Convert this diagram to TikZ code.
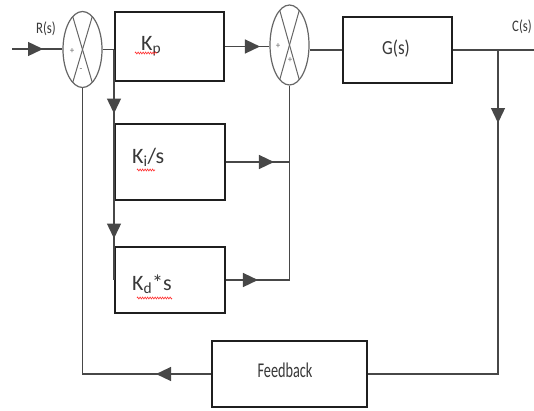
\documentclass[tikz,border=0pt]{standalone}
\usepackage{fontspec}
\setmainfont{Carlito}
\usetikzlibrary{arrows.meta,decorations.markings,decorations.pathmorphing,calc,shapes.geometric}
\begin{document}
\begin{tikzpicture}[x=1pt,y=-1pt,
  blk/.style={draw=black!88, line width=1.9pt, rectangle, inner sep=0pt},
  sumnode/.style={draw=black!60, line width=1.2pt, ellipse, minimum width=39pt, inner sep=0pt},
  wire/.style={draw=black!72, line width=1.4pt},
  midarrow/.style={postaction={decorate, decoration={markings, mark=at position #1 with {\arrow{Triangle[length=15pt,width=14pt]}}}}},
  lbl/.style={text=black!78, inner sep=0pt},
  squig/.style={draw=red!80, line width=0.6pt, decorate, decoration={zigzag, segment length=2.5pt, amplitude=1pt}},
  sign/.style={text=black!60, font=\fontsize{9}{9}\selectfont, inner sep=0pt},
  cross/.style={draw=black!60, line width=1pt}
]
\fill[white] (0,0) rectangle (534,410);
\useasboundingbox (0,0) rectangle (534,410);

% blocks
\node[sumnode, minimum height=76pt] (s1) at (82.5,49.5) {};
\node[sumnode, minimum height=80pt] (s2) at (289.5,45) {};
\node[blk, minimum width=109pt, minimum height=69pt] (kp) at (169.5,46.5) {};
\node[blk, minimum width=110pt, minimum height=76pt] (ki) at (170,162) {};
\node[blk, minimum width=110pt, minimum height=66pt] (kd) at (170,280) {};
\node[blk, minimum width=109pt, minimum height=66pt] (g) at (397.5,50) {};
\node[blk, minimum width=155pt, minimum height=66pt] (fb) at (289.5,374) {};

% crosses in summing junctions
\draw[cross] ($(s1)+(-9.75,-32.9)$) -- ($(s1)+(9.75,32.9)$);
\draw[cross] ($(s1)+(9.75,-32.9)$) -- ($(s1)+(-9.75,32.9)$);
\draw[cross] ($(s2)+(-9.75,-34.6)$) -- ($(s2)+(9.75,34.6)$);
\draw[cross] ($(s2)+(9.75,-34.6)$) -- ($(s2)+(-9.75,34.6)$);

% signs
\node[sign] (s1p) at (72,51) {+};
\node[sign] (s1m) at (81,70) {-};
\node[sign] (s2p) at (278,46) {+};
\node[sign] (s2q) at (290,60) {+};

% texts
\node[lbl, anchor=base west, font=\fontsize{22}{22}\selectfont] (kpt) at (141,50) {K\textsubscript{p}};
\node[lbl, anchor=base west, font=\fontsize{22}{22}\selectfont] (kit) at (132,163) {K\textsubscript{i}/s};
\node[lbl, anchor=base west, font=\fontsize{22}{22}\selectfont] (kdt) at (132,290) {K\textsubscript{d}*s};
\node[lbl, font=\fontsize{20}{20}\selectfont] (gt) at (396,49) {\scalebox{0.85}[1]{G(s)}};
\node[lbl, font=\fontsize{21}{21}\selectfont] (fbt) at (285,370) {\scalebox{0.68}[1]{Feedback}};
\node[lbl, font=\fontsize{16}{16}\selectfont] (rs) at (46,29) {\scalebox{0.8}[1]{R(s)}};
\node[lbl, anchor=east, font=\fontsize{16}{16}\selectfont] (cs) at (532,27) {\scalebox{0.8}[1]{C(s)}};

% spell-check squiggles
\draw[squig] (135,53) -- (157,53);
\draw[squig] (137,170) -- (155,170);
\draw[squig] (137,298) -- (172,298);

% connectors
\coordinate (in) at (12,49);
\draw[wire, midarrow=31pt] (in) -- (in -| s1.west);
\draw[wire] (s1.east) -- (s1.east -| kp.west);
\coordinate (br) at (114,49.5);
\draw[wire, midarrow=64pt, midarrow=189pt] (br) -- (br |- kd.west);
\draw[wire, midarrow=35pt] (kp.east) -- (kp.east -| s2.west);
\draw[wire, midarrow=48pt] (ki.east) -- (ki.east -| s2.south);
\draw[wire, midarrow=32pt] (kd.east) -| (s2.south);
\draw[wire] (g.west -| s2.east) -- (g.west);
\coordinate (out) at (540,50);
\draw[wire] (g.east) -- (out);
\coordinate (cb) at (498,50);
\draw[wire, midarrow=73pt] (cb) |- (fb.east);
\draw[wire, midarrow=55pt] (fb.west) -| (s1.south);
\end{tikzpicture}
\end{document}
